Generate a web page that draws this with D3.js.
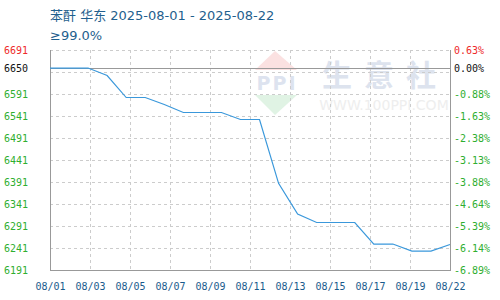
<!DOCTYPE html>
<html>
<head>
<meta charset="utf-8">
<script src="https://cdn.jsdelivr.net/npm/d3@7"></script>
<style>
  html, body { margin: 0; padding: 0; background: #fff; }
  svg { display: block; }
  .tick text { font-family: "DejaVu Sans Mono", "Liberation Mono", monospace; font-size: 10px; }
</style>
</head>
<body>
<div id="chart"></div>
<script>
// 苯酐 华东 daily price, 2025-08-01 .. 2025-08-22

const titleText = "苯酐 华东 2025-08-01 - 2025-08-22";
const subTitleText = "≥99.0%";

const dates = ["08/01", "08/02", "08/03", "08/04", "08/05", "08/06", "08/07", "08/08",
    "08/09", "08/10", "08/11", "08/12", "08/13", "08/14", "08/15", "08/16",
    "08/17", "08/18", "08/19", "08/20", "08/21", "08/22"];
const prices = [6650, 6650, 6650, 6633, 6583, 6583, 6567, 6549,
    6549, 6549, 6533, 6533, 6388, 6318, 6299, 6299,
    6299, 6250, 6250, 6234, 6234, 6249];

const xTickLabels = ["08/01", "08/03", "08/05", "08/07", "08/09", "08/11",
    "08/13", "08/15", "08/17", "08/19", "08/22"];
const leftTicks = [6191, 6241, 6291, 6341, 6391, 6441, 6491, 6541, 6591, 6650, 6691];
const rightTickLabels = ["-6.89%", "-6.14%", "-5.39%", "-4.64%", "-3.88%", "-3.13%",
    "-2.38%", "-1.63%", "-0.88%", "0.00%", "0.63%"];
const gridValues = [6241, 6291, 6341, 6391, 6441, 6491, 6541, 6591, 6641, 6691];
const baseValue = 6650;

const width = 500, height = 300;
const plotLeft = 50, plotRight = 450, plotTop = 50, plotBottom = 270;

const svg = d3.select("#chart").append("svg")
    .attr("width", width)
    .attr("height", height);

const x = d3.scaleLinear().domain([0, dates.length - 1]).range([plotLeft, plotRight]);
const xLabel = d3.scalePoint().domain(xTickLabels).range([plotLeft, plotRight]);
const y = d3.scaleLinear().domain([6191, 6691]).range([plotBottom, plotTop]);

// watermark
const wm = svg.append("g");
wm.append("path").attr("d", "M275,51 L255,70 L297,70 Z").attr("fill", "#fbe1e1");
wm.append("path").attr("d", "M255,95 L297,95 L275,115 Z").attr("fill", "#e0f3e4");
wm.append("text").attr("x", 277).attr("y", 90).attr("text-anchor", "middle")
    .style("font-family", "DejaVu Sans, sans-serif").style("font-size", "19px")
    .style("font-weight", "bold").style("letter-spacing", "2px")
    .attr("fill", "#dde3ef").text("PPI");
wm.append("text").attr("x", 385).attr("y", 86).attr("text-anchor", "middle")
    .style("font-family", "Noto Sans CJK SC").style("font-size", "30px")
    .style("font-weight", "bold").style("letter-spacing", "12px")
    .attr("fill", "#dde3ee").text("生意社");
wm.append("text").attr("x", 384).attr("y", 110).attr("text-anchor", "middle")
    .style("font-family", "DejaVu Sans").style("font-size", "14px")
    .attr("fill", "#eeeeee").text("WWW.100PPI.COM");

// grid
const grid = svg.append("g").attr("stroke", "#cccccc").attr("stroke-dasharray", "3,3")
    .attr("shape-rendering", "crispEdges");
grid.selectAll("line.h").data(gridValues).join("line")
    .attr("class", "h")
    .attr("x1", plotLeft).attr("x2", plotRight)
    .attr("y1", d => Math.round(y(d)) + 0.5).attr("y2", d => Math.round(y(d)) + 0.5);
grid.selectAll("line.v").data(xTickLabels.slice(1, -1)).join("line")
    .attr("class", "v")
    .attr("x1", d => Math.round(xLabel(d)) + 0.5).attr("x2", d => Math.round(xLabel(d)) + 0.5)
    .attr("y1", plotTop).attr("y2", plotBottom);

// frame and base line
const frame = svg.append("g").attr("stroke", "#999999").attr("shape-rendering", "crispEdges");
frame.append("line").attr("x1", plotLeft + 0.5).attr("x2", plotLeft + 0.5).attr("y1", plotTop).attr("y2", plotBottom + 0.5);
frame.append("line").attr("x1", plotRight + 0.5).attr("x2", plotRight + 0.5).attr("y1", plotTop).attr("y2", plotBottom + 0.5);
frame.append("line").attr("x1", plotLeft).attr("x2", plotRight + 1).attr("y1", plotBottom + 0.5).attr("y2", plotBottom + 0.5);
frame.append("line").attr("x1", plotLeft).attr("x2", plotRight)
    .attr("y1", Math.round(y(baseValue)) + 0.5).attr("y2", Math.round(y(baseValue)) + 0.5)
    .attr("stroke-width", 1.5);

// price line
const line = d3.line()
    .x((d, i) => x(i))
    .y(d => y(d));
svg.append("path")
    .datum(prices)
    .attr("fill", "none")
    .attr("stroke", "#3a98db")
    .attr("stroke-width", 1.2)
    .attr("d", line);

// axes
function tickColor(v) {
    if (v > baseValue) return "#ee2a2a";
    if (v === baseValue) return "#111111";
    return "#2fae2f";
}

const leftAxis = svg.append("g")
    .attr("transform", `translate(${plotLeft},0)`)
    .call(d3.axisLeft(y).tickValues(leftTicks).tickSize(0).tickPadding(22)
        .tickFormat(d3.format("d")));
leftAxis.select(".domain").remove();
leftAxis.selectAll(".tick text").attr("fill", d => tickColor(d));

const rightAxis = svg.append("g")
    .attr("transform", `translate(${plotRight},0)`)
    .call(d3.axisRight(y).tickValues(leftTicks).tickSize(0).tickPadding(4)
        .tickFormat((d, i) => rightTickLabels[i]));
rightAxis.select(".domain").remove();
rightAxis.selectAll(".tick text").attr("fill", d => tickColor(d));

const bottomAxis = svg.append("g")
    .attr("transform", `translate(0,${plotBottom})`)
    .call(d3.axisBottom(xLabel).tickSize(0).tickPadding(13));
bottomAxis.select(".domain").remove();
bottomAxis.selectAll(".tick text").attr("fill", "#1a5a8c");

// titles
svg.append("text").attr("x", 50).attr("y", 20)
    .style("font-family", "DejaVu Sans, Noto Sans CJK SC").style("font-size", "13px")
    .attr("fill", "#1f5f8e").text(titleText);
svg.append("text").attr("x", 50).attr("y", 40)
    .style("font-family", "DejaVu Sans, Noto Sans CJK SC").style("font-size", "13px")
    .attr("fill", "#1f5f8e").text(subTitleText);
</script>
</body>
</html>
